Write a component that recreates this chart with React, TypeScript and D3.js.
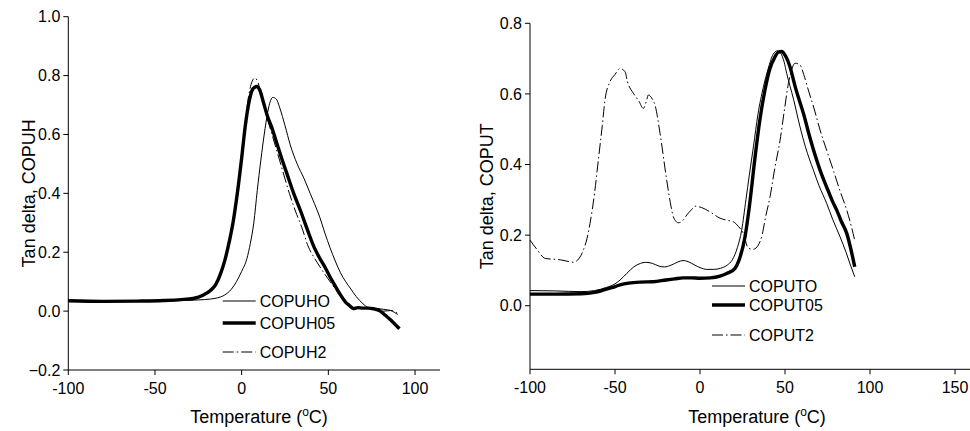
import React from "react";
import * as d3 from "d3";

// ---------- Left panel data (T °C, tan delta) ----------
const copuhO: [number, number][] = [[-100,0.035],[-80,0.032],[-60,0.033],[-45,0.034],[-35,0.036],[-25,0.038],[-18,0.041],[-14,0.045],[-10,0.054],[-6,0.074],[-3,0.10],[0,0.135],[3,0.178],[5,0.23],[7,0.30],[9,0.41],[11,0.51],[13.5,0.62],[15.5,0.69],[18,0.726],[20,0.72],[22,0.69],[25,0.63],[28,0.565],[32,0.50],[36,0.45],[39.5,0.40],[42,0.365],[45,0.32],[48,0.265],[51,0.215],[54,0.17],[57,0.13],[60,0.10],[63,0.075],[66,0.05],[70,0.025],[73,0.012],[77,0.01],[82,0.006],[86,0.002],[90,-0.012]];
const copuh05: [number, number][] = [[-100,0.035],[-80,0.033],[-60,0.034],[-45,0.036],[-35,0.039],[-28,0.043],[-22,0.055],[-18,0.07],[-15,0.09],[-12,0.13],[-9.6,0.175],[-7,0.24],[-5,0.30],[-2.5,0.40],[0,0.52],[2,0.625],[4.4,0.715],[6.5,0.755],[8.7,0.763],[10.5,0.75],[12.5,0.71],[15,0.66],[17.3,0.625],[20,0.575],[23,0.52],[26.5,0.46],[30,0.40],[34,0.34],[38,0.275],[41.7,0.218],[45,0.18],[48,0.15],[51,0.116],[54,0.085],[57,0.055],[60,0.03],[62,0.02],[64.4,0.009],[67,0.012],[70,0.01],[73,0.01],[76,0.008],[80,0.0],[83,-0.015],[86,-0.03],[88.5,-0.045],[91,-0.06]];
const copuh2: [number, number][] = [[-100,0.035],[-80,0.033],[-60,0.034],[-45,0.036],[-35,0.039],[-28,0.043],[-22,0.055],[-18,0.07],[-15,0.09],[-12,0.13],[-9.6,0.175],[-7,0.24],[-5,0.30],[-2.5,0.41],[0,0.535],[2,0.64],[4,0.73],[6,0.78],[7.7,0.792],[9.5,0.775],[11.5,0.73],[14,0.67],[17,0.61],[20,0.55],[23,0.49],[27.5,0.40],[31,0.34],[34.6,0.286],[38.5,0.218],[42,0.18],[45.2,0.15],[48,0.125],[51,0.10],[54,0.075],[57,0.05],[60,0.03],[63,0.015],[66,0.008],[70,0.01],[74,0.008],[78,0.005],[82,0.0],[86,0.002],[90,-0.008]];

// ---------- Right panel data ----------
const coputO: [number, number][] = [[-100,0.043],[-85,0.042],[-70,0.04],[-62,0.043],[-55,0.052],[-50,0.062],[-47,0.073],[-43,0.092],[-39,0.11],[-35,0.12],[-32,0.123],[-28,0.12],[-24,0.112],[-21,0.11],[-17,0.115],[-13,0.124],[-10,0.128],[-7,0.125],[-3,0.115],[0,0.108],[4,0.103],[8,0.103],[12,0.106],[16,0.115],[19,0.13],[22,0.165],[24.5,0.214],[27,0.30],[29,0.37],[31.4,0.45],[34,0.54],[37.3,0.62],[40,0.67],[43,0.712],[45.5,0.722],[47.5,0.715],[49.5,0.69],[51,0.658],[55,0.585],[58.8,0.507],[62,0.45],[66.7,0.384],[70,0.34],[74.5,0.29],[78,0.245],[82.4,0.195],[86,0.15],[88.5,0.115],[91,0.082]];
const coput05: [number, number][] = [[-100,0.033],[-85,0.033],[-70,0.034],[-62,0.038],[-57,0.044],[-52,0.051],[-47,0.059],[-42,0.064],[-35,0.067],[-27.5,0.068],[-20,0.073],[-15,0.076],[-10,0.079],[-5,0.079],[0,0.078],[6,0.079],[11.8,0.084],[16,0.092],[20.6,0.106],[23,0.13],[26.5,0.196],[29,0.28],[32.4,0.422],[35,0.52],[38.2,0.611],[41,0.67],[44.1,0.705],[46,0.718],[48,0.72],[50,0.71],[52.9,0.677],[56,0.62],[60.8,0.545],[65,0.47],[70.6,0.384],[75,0.33],[78,0.295],[80.4,0.271],[83,0.24],[86.3,0.205],[88.5,0.165],[91,0.11]];
const coput2: [number, number][] = [[-100,0.186],[-96,0.16],[-91,0.134],[-82,0.13],[-77,0.125],[-74.5,0.123],[-71,0.135],[-68.6,0.158],[-66.5,0.19],[-64.7,0.233],[-62,0.32],[-59.8,0.413],[-57.5,0.51],[-55.9,0.583],[-52.9,0.635],[-50,0.655],[-47.1,0.672],[-44.1,0.663],[-42.7,0.635],[-39.2,0.602],[-36,0.58],[-33.3,0.559],[-31.5,0.58],[-30.4,0.597],[-28,0.585],[-26.5,0.569],[-23.5,0.488],[-19.6,0.356],[-17,0.28],[-15.7,0.252],[-12.7,0.235],[-10,0.242],[-7.8,0.257],[-5,0.272],[-2.9,0.282],[1,0.278],[5.9,0.266],[11.8,0.248],[16,0.242],[19.6,0.238],[22.5,0.225],[25.5,0.205],[28.4,0.163],[31.4,0.16],[34.3,0.172],[36.5,0.2],[38.5,0.25],[41.2,0.309],[44,0.39],[47.1,0.469],[49.5,0.55],[52,0.63],[54,0.67],[55.9,0.687],[58.8,0.682],[61,0.655],[63.7,0.611],[67,0.56],[70.6,0.498],[74.5,0.44],[78.4,0.384],[82,0.33],[86.3,0.271],[89,0.225],[91.2,0.181]];

const xTicks = [-100, -50, 0, 50, 100];
const xTicksRight = [-100, -50, 0, 50, 100, 150];
const yTicksLeft = [-0.2, 0, 0.2, 0.4, 0.6, 0.8, 1.0];
const yTicksRight = [0, 0.2, 0.4, 0.6, 0.8];
const leftNames = ["COPUHO", "COPUH05", "COPUH2"];
const rightNames = ["COPUTO", "COPUT05", "COPUT2"];

const FONT = "'Liberation Sans', Arial, Helvetica, sans-serif";
const styles = [
  { w: 1, dash: undefined as string | undefined },
  { w: 3.4, dash: undefined as string | undefined },
  { w: 1, dash: "11,3,1.5,3" },
];

type PanelProps = {
  x0: number; x1: number; y0: number; y1: number;
  xDomain: [number, number]; yDomain: [number, number];
  xTickVals: number[]; yTickVals: number[];
  series: [number, number][][]; names: string[];
  yTitle: string; yTitleX: number; xTitleX: number;
  legX: number; legY: number[];
};

function Panel(p: PanelProps) {
  const x = d3.scaleLinear().domain(p.xDomain).range([p.x0, p.x1]);
  const y = d3.scaleLinear().domain(p.yDomain).range([p.y0, p.y1]);
  const line = d3.line<[number, number]>().x(d => x(d[0])).y(d => y(d[1])).curve(d3.curveMonotoneX);
  const fmt = d3.format(".1f");
  return (
    <g fontFamily={FONT} fill="#000">
      {p.series.map((s, i) => (
        <path key={i} d={line(s) || ""} fill="none" stroke="#000" strokeWidth={styles[i].w}
          strokeDasharray={styles[i].dash} strokeLinejoin="round" />
      ))}
      {/* axes */}
      <line x1={p.x0} x2={p.x0} y1={p.y0} y2={p.y1} stroke="#000" strokeWidth={1} />
      <line x1={p.x0} x2={p.x1} y1={p.y0} y2={p.y0} stroke="#000" strokeWidth={1} />
      {p.yTickVals.map(t => (
        <g key={"y" + t}>
          <line x1={p.x0 - 5} x2={p.x0} y1={y(t)} y2={y(t)} stroke="#000" />
          <text x={p.x0 - 8} y={y(t)} dy="0.35em" textAnchor="end" fontSize={16}>{fmt(t)}</text>
        </g>
      ))}
      {p.xTickVals.map(t => (
        <g key={"x" + t}>
          <line x1={x(t)} x2={x(t)} y1={p.y0} y2={p.y0 + 5} stroke="#000" />
          <text x={x(t)} y={p.y0 + 24} textAnchor="middle" fontSize={16}>{t}</text>
        </g>
      ))}
      <text transform={`translate(${p.yTitleX},${(p.y0 + p.y1) / 2}) rotate(-90)`} textAnchor="middle" fontSize={18}>{p.yTitle}</text>
      <text x={p.xTitleX} y={423} textAnchor="middle" fontSize={18}>
        Temperature (<tspan dy={-7} fontSize={12}>o</tspan><tspan dy={7}>C)</tspan>
      </text>
      {/* legend */}
      {p.names.map((n, i) => (
        <g key={n}>
          <line x1={p.legX} x2={p.legX + 33} y1={p.legY[i]} y2={p.legY[i]} stroke="#000"
            strokeWidth={styles[i].w} strokeDasharray={styles[i].dash} />
          <text x={p.legX + 37} y={p.legY[i]} dy="0.35em" fontSize={16}>{n}</text>
        </g>
      ))}
    </g>
  );
}

export default function App() {
  return (
    <svg width={970} height={431} style={{ position: "absolute", left: 0, top: 0, background: "#fff" }}>
      <rect width={970} height={431} fill="#fff" />
      <Panel x0={68.3} x1={440} y0={370} y1={16.7} xDomain={[-100, 114.4]} yDomain={[-0.2, 1.0]}
        xTickVals={xTicks} yTickVals={yTicksLeft} series={[copuhO, copuh05, copuh2]} names={leftNames}
        yTitle="Tan delta, COPUH" yTitleX={35} xTitleX={259} legX={222.7} legY={[301, 323, 352]} />
      <Panel x0={530} x1={970} y0={369.3} y1={23.3} xDomain={[-100, 158.8]} yDomain={[-0.18, 0.8]}
        xTickVals={xTicksRight} yTickVals={yTicksRight} series={[coputO, coput05, coput2]} names={rightNames}
        yTitle="Tan delta, COPUT" yTitleX={493} xTitleX={757} legX={712} legY={[286, 305, 335]} />
    </svg>
  );
}
